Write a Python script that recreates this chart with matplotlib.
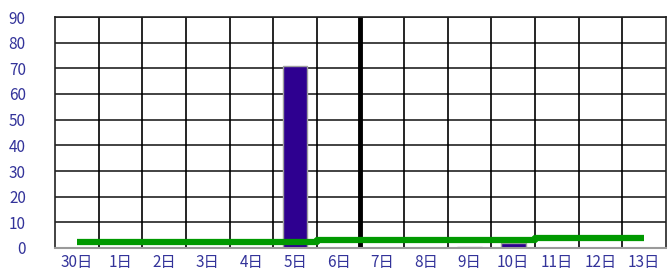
import numpy as np
import matplotlib.pyplot as plt

plt.rcParams['font.family'] = ['Noto Sans CJK JP', 'DejaVu Sans']

days = ['30日', '1日', '2日', '3日', '4日', '5日', '6日',
        '7日', '8日', '9日', '10日', '11日', '12日', '13日']
bar_values = [0, 0, 0, 0, 0, 71, 0, 0, 0, 0.3, 1.8, 0, 0, 0]
line_values = [2.5, 2.5, 2.5, 2.5, 2.5, 2.5, 3.2, 3.2, 3.2, 3.2, 3.2, 3.8, 3.8, 3.8]
y_ticks = [0, 10, 20, 30, 40, 50, 60, 70, 80, 90]

label_color = '#33339a'

fig = plt.figure(figsize=(6.71, 2.76), dpi=100)
ax = fig.add_axes([55 / 671, 1 - 248 / 276, 611 / 671, 231 / 276])

x = np.arange(len(days))

# gitter
for yv in y_ticks[1:]:
    ax.axhline(yv, color='#222222', linewidth=1.2, zorder=1)
for xv in x[:-1] + 0.5:
    ax.axvline(xv, color='black', linewidth=1.2, zorder=1)
ax.axvline(6.5, color='black', linewidth=3.5, zorder=1)

ax.bar(x, bar_values, width=0.57, color='#2e0090', edgecolor='#a0a0a0',
       linewidth=1, zorder=2)
ax.plot(x, line_values, drawstyle='steps-mid', color='#009900',
        linewidth=4.5, solid_capstyle='butt', zorder=3)

ax.set_xlim(-0.5, len(days) - 0.5)
ax.set_ylim(0, 90)
ax.set_xticks(x)
ax.set_xticklabels(days)
ax.set_yticks(y_ticks)

for s in ['top', 'right', 'left']:
    ax.spines[s].set_color('#222222')
    ax.spines[s].set_linewidth(1.2)
ax.spines['bottom'].set_color('#9a9a9a')
ax.spines['bottom'].set_linewidth(1.5)

ax.tick_params(axis='both', length=0, labelcolor=label_color, labelsize=11)
ax.tick_params(axis='y', pad=21)
ax.tick_params(axis='x', pad=4)

plt.savefig('out.png', dpi=100)
